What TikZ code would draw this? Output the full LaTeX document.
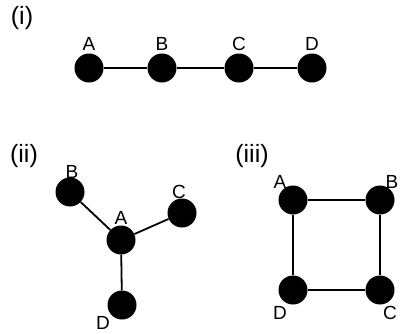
\documentclass[tikz,border=0pt]{standalone}
\usepackage{fontspec}
\setmainfont{Liberation Sans}
\begin{document}
\begin{tikzpicture}[x=1pt,y=-1pt,
  vtx/.style={circle,fill=black,inner sep=0pt,minimum size=29pt},
  lbl/.style={font=\fontsize{19}{19}\selectfont,inner sep=0pt},
  ttl/.style={font=\fontsize{25}{25}\selectfont,inner sep=0pt},
  edge/.style={line width=1.8pt}]
\useasboundingbox (0,0) rectangle (401,333);
% (i)
\node[ttl] (t1) at (22,18) {(i)};
\node[vtx] (a1) at (89,68) {};
\node[vtx] (b1) at (162,68) {};
\node[vtx] (c1) at (239,68) {};
\node[vtx] (d1) at (312,68) {};
\node[lbl] (la1) at (89,44) {A};
\node[lbl] (lb1) at (162,44) {B};
\node[lbl] (lc1) at (239,44) {C};
\node[lbl] (ld1) at (312,44) {D};
\draw[edge] (a1) -- (b1) (b1) -- (c1) (c1) -- (d1);
% (ii)
\node[ttl] (t2) at (24,156) {(ii)};
\node[vtx] (a2) at (121,240) {};
\node[vtx] (b2) at (70,192) {};
\node[vtx] (c2) at (182,213) {};
\node[vtx] (d2) at (122,305) {};
\node[lbl] (la2) at (121,218) {A};
\node[lbl] (lb2) at (72,172) {B};
\node[lbl] (lc2) at (179,192) {C};
\node[lbl] (ld2) at (103,323) {D};
\draw[edge] (a2) -- (b2) (a2) -- (c2) (a2) -- (d2);
% (iii)
\node[ttl] (t3) at (252,156) {(iii)};
\node[vtx] (a3) at (293,200) {};
\node[vtx] (b3) at (380,200) {};
\node[vtx] (c3) at (380,290) {};
\node[vtx] (d3) at (293,290) {};
\node[lbl] (la3) at (280,182) {A};
\node[lbl] (lb3) at (392,182) {B};
\node[lbl] (lc3) at (390,313) {C};
\node[lbl] (ld3) at (280,313) {D};
\draw[edge] (a3) -- (b3) -- (c3) -- (d3) -- (a3);
\end{tikzpicture}
\end{document}
